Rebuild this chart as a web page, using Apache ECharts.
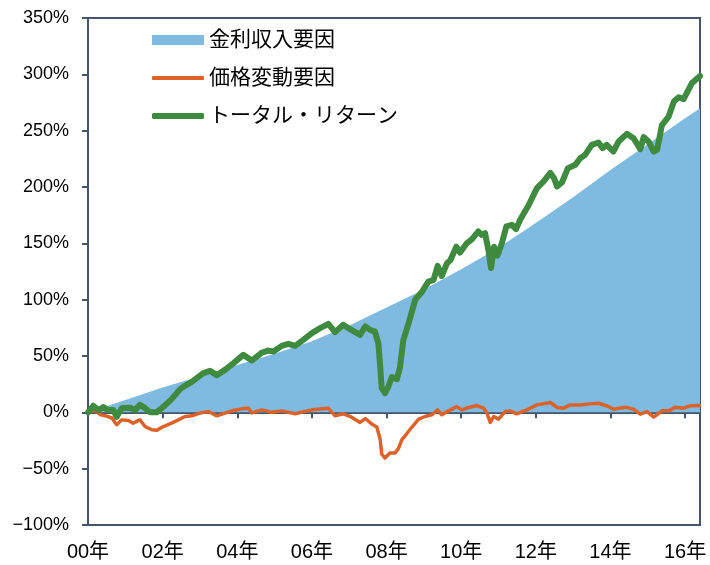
<!DOCTYPE html>
<html>
<head>
<meta charset="utf-8">
<script src="https://cdn.jsdelivr.net/npm/echarts@6/dist/echarts.min.js"></script>
<style>html,body{margin:0;padding:0;background:#fff}#c{width:710px;height:565px}</style>
</head>
<body>
<div id="c"></div>
<script>
// Series names
const seriesNames = ['金利収入要因', '価格変動要因', 'トータル・リターン'];
// x = years since 2000, y = %
const interestIncome = [[0,0],[1,11],[2,22],[3,32],[4,42],[5,52],[6,63],[7,77],[8,93],[9,109],[10,127],[11,146],[12,168],[13,191],[14,215],[15,238],[16,261],[16.4,270]];
const priceChange = [[0,0],[0.19,2],[0.32,-2],[0.46,-3],[0.64,-5],[0.77,-11],[0.9,-6.7],[1.08,-7.3],[1.21,-9.6],[1.39,-6.7],[1.53,-12.6],[1.71,-15.5],[1.84,-16],[2.02,-12.6],[2.24,-9.6],[2.42,-6.7],[2.6,-3.7],[2.78,-3.1],[3.0,-0.7],[3.23,0.7],[3.45,-3.1],[3.67,-0.7],[3.9,1.6],[4.12,3.1],[4.3,3.7],[4.39,-0.5],[4.66,2.2],[4.92,0],[5.19,1.3],[5.55,-1.3],[6.0,2.2],[6.44,3.7],[6.62,-3.1],[6.84,-1.3],[7.02,-3.5],[7.29,-9],[7.43,-5.5],[7.61,-10.5],[7.74,-13],[7.83,-24],[7.87,-37],[7.96,-40.7],[8.09,-36],[8.23,-36],[8.32,-32],[8.41,-24.4],[8.54,-19],[8.67,-13.5],[8.86,-6],[9.03,-3.7],[9.21,-2.2],[9.37,2.2],[9.48,-2.2],[9.66,1.3],[9.88,5.1],[10.01,2.2],[10.2,4.3],[10.42,6],[10.6,3.7],[10.69,-0.7],[10.78,-9],[10.87,-3.7],[11.0,-6],[11.18,0.7],[11.31,1.3],[11.49,-1.3],[11.76,2.2],[12.03,6.6],[12.39,8.7],[12.57,4.3],[12.74,3.7],[12.92,6.6],[13.19,6.6],[13.46,7.5],[13.68,8.1],[13.9,5.8],[14.08,2.8],[14.4,4.6],[14.62,2.8],[14.8,-1.6],[14.98,0.7],[15.16,-4.3],[15.38,1.3],[15.56,1.3],[15.74,4.6],[15.96,3.7],[16.14,5.8],[16.39,6]];
const totalReturn = [[0,0],[0.14,5.8],[0.28,2],[0.41,4.6],[0.54,2],[0.68,2],[0.77,-4],[0.9,3.7],[1.13,4],[1.26,2],[1.39,6.6],[1.53,3.7],[1.66,0],[1.84,0],[2.02,5],[2.24,11.7],[2.47,20.6],[2.6,23.5],[2.78,27],[3.09,34.8],[3.27,36.8],[3.45,33],[3.67,37.7],[3.9,43.7],[4.16,51],[4.39,46],[4.66,53],[4.83,54.8],[4.97,54],[5.19,59],[5.37,60.8],[5.55,59],[5.77,64.3],[6.0,70.3],[6.22,74.7],[6.44,78.5],[6.62,71.2],[6.84,77.7],[7.02,73.8],[7.29,68.8],[7.43,76.2],[7.56,73.2],[7.69,71.7],[7.78,61.4],[7.83,40.6],[7.87,21.5],[7.96,17],[8.05,22.9],[8.14,31.2],[8.28,29.5],[8.36,40],[8.45,64],[8.59,79],[8.77,100],[8.95,107],[9.12,116],[9.26,117.6],[9.37,130],[9.48,121],[9.62,132.4],[9.71,135],[9.87,147],[9.97,141.8],[10.15,150],[10.29,153.7],[10.46,160.5],[10.55,157.5],[10.64,159],[10.73,144],[10.8,128],[10.88,147],[10.97,139],[11.09,150],[11.21,165],[11.36,166.4],[11.47,162.6],[11.58,170.9],[11.81,184],[12.03,199],[12.21,205],[12.39,212.5],[12.49,207.8],[12.57,200.4],[12.7,204],[12.86,216.7],[13.06,219.7],[13.19,225.6],[13.32,228.5],[13.5,237.4],[13.68,239.5],[13.79,234.5],[13.9,237.4],[14.08,231.5],[14.22,240.4],[14.44,247.2],[14.62,243.3],[14.8,233.6],[14.89,244.3],[15.02,240.4],[15.16,231.5],[15.25,233],[15.38,255],[15.56,262.5],[15.7,275.9],[15.83,279.7],[15.96,278],[16.18,292],[16.4,298.6]];
// Axis ranges / ticks
const xMin = 0, xMax = 16.4, xInterval = 2;
const yMin = -100, yMax = 350, yInterval = 50;

const axisColor = '#44546a';
const blue = '#7fbbe1', orange = '#dc622a', green = '#3e8a3e';
const font = '"Liberation Sans", "Noto Sans CJK JP", sans-serif';
const chart = echarts.init(document.getElementById('c'), null, {renderer: 'canvas'});
const fmtYear = v => (Math.abs(v - Math.round(v)) > 1e-6) ? '' : (String(Math.round(v)).padStart(2, '0') + '年');
const legendText = {color: '#000', fontSize: 21, fontFamily: font, lineHeight: 22};
const mkLegend = (name, top, icon, h, color) => ({
  left: 152, top: top, padding: 0, itemWidth: 52, itemHeight: h, itemGap: 0,
  textStyle: legendText, selectedMode: false,
  data: [{name: name, icon: icon, itemStyle: {color: color, borderWidth: 0}}]
});
chart.setOption({
  animation: false,
  backgroundColor: '#fff',
  grid: {left: 88, right: 10, top: 18, bottom: 40, show: true, borderColor: axisColor, borderWidth: 2, backgroundColor: 'transparent'},
  legend: [
    mkLegend(seriesNames[0], 29, 'rect', 10, blue),
    mkLegend(seriesNames[1], 67, 'roundRect', 4, orange),
    mkLegend(seriesNames[2], 105, 'roundRect', 6, green)
  ],
  xAxis: [
    {type: 'value', min: xMin, max: xMax, interval: xInterval, position: 'bottom',
     axisLine: {show: true, onZero: true, lineStyle: {color: axisColor, width: 2}},
     axisTick: {show: true, length: 6, lineStyle: {color: axisColor, width: 2}},
     axisLabel: {show: false}, splitLine: {show: false}},
    {type: 'value', min: xMin, max: xMax, interval: xInterval, position: 'bottom',
     axisLine: {show: false, onZero: false}, axisTick: {show: false},
     axisLabel: {show: true, formatter: fmtYear, color: '#000', fontSize: 20, fontFamily: font, margin: 17, showMaxLabel: false},
     splitLine: {show: false}}
  ],
  yAxis: {type: 'value', min: yMin, max: yMax, interval: yInterval,
    axisLine: {show: true, lineStyle: {color: axisColor, width: 2}},
    axisTick: {show: true, length: 6, lineStyle: {color: axisColor, width: 2}},
    axisLabel: {formatter: v => (v < 0 ? '\u2212' + Math.abs(v) : v) + '%', color: '#000', fontSize: 18, fontFamily: font, margin: 19},
    splitLine: {show: false}},
  series: [
    {name: seriesNames[0], type: 'line', xAxisIndex: 0, data: interestIncome, symbol: 'none',
     itemStyle: {color: blue}, lineStyle: {width: 0, color: blue},
     areaStyle: {color: blue, opacity: 1}, z: 1},
    {name: seriesNames[1], type: 'line', xAxisIndex: 0, data: priceChange, symbol: 'none',
     itemStyle: {color: orange}, lineStyle: {width: 3.5, color: orange, cap: 'round', join: 'round'}, z: 3},
    {name: seriesNames[2], type: 'line', xAxisIndex: 0, data: totalReturn, symbol: 'none',
     itemStyle: {color: green}, lineStyle: {width: 6, color: green, cap: 'round', join: 'round'}, z: 4}
  ]
});
</script>
</body>
</html>
